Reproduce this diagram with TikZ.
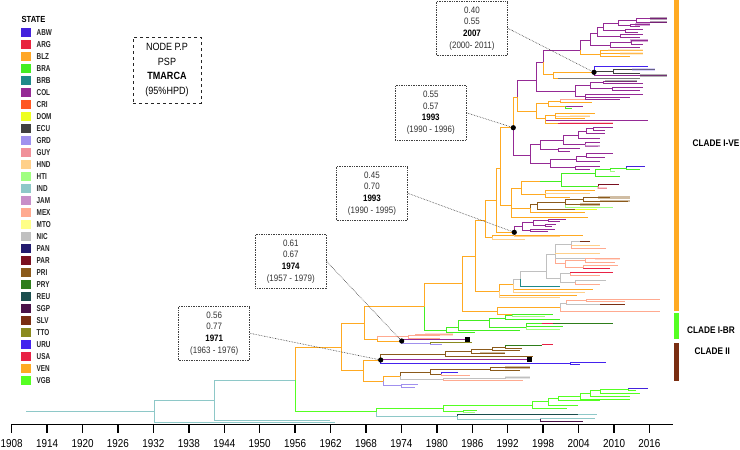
\documentclass[tikz,border=0pt]{standalone}
\usepackage{fontspec}
\setmainfont{Liberation Sans}
\newfontfamily\nrw[FakeStretch=0.86]{Liberation Sans}
\newfontfamily\xnrw[FakeStretch=0.74]{Liberation Sans}
\definecolor{cABW}{HTML}{4422DD}
\definecolor{cARG}{HTML}{E8233F}
\definecolor{cBLZ}{HTML}{FFA726}
\definecolor{cBRA}{HTML}{44EE22}
\definecolor{cBRB}{HTML}{1F8A8A}
\definecolor{cCOL}{HTML}{952A95}
\definecolor{cCRI}{HTML}{FF5722}
\definecolor{cDOM}{HTML}{EEFF22}
\definecolor{cECU}{HTML}{404040}
\definecolor{cGRD}{HTML}{A090EE}
\definecolor{cGUY}{HTML}{F0909A}
\definecolor{cHND}{HTML}{FFD08A}
\definecolor{cHTI}{HTML}{A0FF80}
\definecolor{cIND}{HTML}{8EC8C8}
\definecolor{cJAM}{HTML}{C88EC8}
\definecolor{cMEX}{HTML}{FFAA90}
\definecolor{cMTO}{HTML}{FFFF88}
\definecolor{cNIC}{HTML}{C0C0C0}
\definecolor{cPAN}{HTML}{221A6E}
\definecolor{cPAR}{HTML}{7A1020}
\definecolor{cPRI}{HTML}{8B5A1B}
\definecolor{cPRY}{HTML}{2E7D1A}
\definecolor{cREU}{HTML}{1A4D4D}
\definecolor{cSGP}{HTML}{4A1248}
\definecolor{cSLV}{HTML}{7A2E12}
\definecolor{cTTO}{HTML}{8A8A1E}
\definecolor{cURU}{HTML}{4422EE}
\definecolor{cUSA}{HTML}{E82245}
\definecolor{cVEN}{HTML}{FFAA22}
\definecolor{cVGB}{HTML}{55FF22}
\newcommand\brn[5]{\draw[tl,#1] (#2,#3) |- (#4,#5);}
\newcommand\hsg[4]{\draw[tl,#1] (#2,#3) -- (#4,#3);}
\newcommand\tbr[4]{\draw[#1,line width=2.6pt,opacity=.4] (#2,#3) -- (#4,#3);}
\begin{document}
\begin{tikzpicture}[x=1pt,y=-1pt,
  tl/.style={line width=1pt},
  lgtxt/.style={anchor=west,font=\xnrw\bfseries\fontsize{8.6}{10}\selectfont,text=black!85,inner sep=0},
  axtxt/.style={font=\nrw\fontsize{11.5}{12}\selectfont,inner sep=0},
  anbox/.style={draw=black!75,densely dotted,line width=0.7pt,inner sep=0,align=center,
    minimum width=71pt,minimum height=54.5pt,font=\nrw\fontsize{9.3}{11.7}\selectfont,text=black!80},
  leader/.style={densely dotted,line width=0.6pt,black!80},
  ndot/.style={circle,fill=black,inner sep=0,minimum size=5.2pt},
  nsq/.style={rectangle,fill=black,inner sep=0,minimum size=5.2pt},
  cltxt/.style={font=\nrw\bfseries\fontsize{9.6}{11}\selectfont,inner sep=0}]
\fill[white] (0,0) rectangle (740,450);
\useasboundingbox (0,0) rectangle (740,450);

% ---------- legend
\node[anchor=west,inner sep=0,font=\nrw\bfseries\fontsize{8.8}{10}\selectfont] (lgt) at (21.5,19) {STATE};
\foreach \n [count=\i from 0] in {ABW,ARG,BLZ,BRA,BRB,COL,CRI,DOM,ECU,GRD,GUY,HND,HTI,IND,JAM,MEX,MTO,NIC,PAN,PAR,PRI,PRY,REU,SGP,SLV,TTO,URU,USA,VEN,VGB}{
  \fill[fill=c\n] (21.3,27.8+12*\i) rectangle ++(9.7,9);
  \node[lgtxt] (lg\n) at (36.5,32.5+12*\i) {\n};
}

% ---------- NODE key box
\node[draw=black!85,dashed,line width=1pt,minimum width=68pt,minimum height=66pt,align=center,
  font=\nrw\fontsize{10.5}{14.7}\selectfont,inner sep=0] (key) at (167,70)
  {NODE P.P\\PSP\\\textbf{TMARCA}\\(95\%HPD)};

% ---------- axis
\draw[line width=1.4pt] (11,424.3) -- (672.6,424.3);
\foreach \yr [count=\i from 0] in {1908,1914,1920,1926,1932,1938,1944,1950,1956,1962,1968,1974,1980,1986,1992,1998,2004,2010,2016}{
  \draw[line width=1.4pt] (11.7+35.43*\i,424.3) -- ++(0,9);
  \node[axtxt] (ax\yr) at (11.7+35.43*\i,443.5) {\yr};
}

% ---------- backbone
\hsg{cIND}{26}{411.7}{154.3}
\brn{cIND}{154.3}{411.7}{214}{400.7}
\brn{cIND}{154.3}{411.7}{335}{422.3}
\brn{cIND}{214}{400.7}{295}{380}
\brn{cIND}{214}{400.7}{330}{420.3}
\brn{cVEN}{295}{380}{341.7}{347.7}
\brn{cVGB}{295}{380}{376.7}{411.7}
\brn{cVEN}{341.7}{347.7}{364}{323}
\brn{cVEN}{341.7}{347.7}{363.3}{370.7}
\brn{cVEN}{364}{323}{424.3}{306.7}
\brn{cVEN}{364}{323}{377}{339.3}
\brn{cVEN}{424.3}{306.7}{462.7}{283.3}
\brn{cBRA}{424.3}{306.7}{446.7}{330}
\brn{cVEN}{462.7}{283.3}{475.7}{256}
\brn{cVEN}{462.7}{283.3}{497.3}{311}
\brn{cVEN}{475.7}{256}{485}{220}
\brn{cVEN}{475.7}{256}{499}{291}
\brn{cVEN}{485}{220}{496.7}{200}
\brn{cVEN}{485}{220}{492}{237}
\brn{cVEN}{496.7}{200}{500}{168}
\brn{cVEN}{496.7}{200}{514.3}{232.3}
\brn{cVEN}{500}{168}{513.3}{127.7}
\brn{cVEN}{500}{168}{511.7}{205}
\brn{cVEN}{492}{237}{583}{235}
\brn{cHND}{492}{237}{525}{239.3}

% ---------- cluster e
\brn{cVEN}{511.7}{205}{521.7}{188.3}
\brn{cVEN}{511.7}{205}{530}{208}
\brn{cVEN}{511.7}{205}{588}{217}
\brn{cVEN}{521.7}{188.3}{540}{181}
\brn{cVEN}{521.7}{188.3}{545}{194}
\hsg{cBRA}{540}{181}{561.7}
\brn{cBRA}{561.7}{181}{595}{173}
\brn{cBRA}{561.7}{181}{598}{186}
\brn{cBRA}{595}{173}{610}{169.5}
\brn{cBRA}{595}{173}{620}{176}
\brn{cBRA}{610}{169.5}{626.7}{168.3}
\brn{cHTI}{610}{169.5}{615}{171.5}
\brn{cABW}{626.7}{168.3}{645}{166.8}
\brn{cBRA}{626.7}{168.3}{640}{169.5}
\brn{cGUY}{598}{186}{606.7}{188} \tbr{cGUY}{597}{188}{607}
\brn{cPAR}{598}{186}{619}{184}
\brn{cVEN}{545}{194}{595}{190.5}
\brn{cHND}{545}{194}{590}{193.5}
\brn{cVEN}{545}{194}{570}{197}
\brn{cPRI}{530}{208}{537.7}{204.5}
\brn{cVEN}{530}{208}{585}{212.5}
\brn{cPRI}{537.7}{204.5}{565}{202}
\brn{cPRI}{537.7}{204.5}{575}{209.5}
\hsg{cDOM}{575}{209.5}{596.7}
\brn{cHTI}{565}{202}{613}{207.3}
\brn{cPRI}{565}{202}{583}{199}
\brn{cPRI}{565}{202}{600}{204.5} \tbr{cPRI}{580}{204.5}{600}
\brn{cPRI}{583}{199}{610}{197.5} \tbr{cPRI}{598}{197.5}{630}
\brn{cPRI}{583}{199}{628}{201} \tbr{cPRI}{600}{201}{630}

% ---------- cluster f
\brn{cCOL}{514.3}{232.3}{522}{226.5}
\brn{cHND}{514.3}{232.3}{560}{236.5}
\brn{cCOL}{522}{226.5}{533}{222.5}
\brn{cCOL}{522}{226.5}{530}{230}
\brn{cCOL}{533}{222.5}{548}{220}
\brn{cCOL}{533}{222.5}{545}{225}
\brn{cCOL}{548}{220}{566}{219}
\brn{cCOL}{548}{220}{560}{221.3}
\brn{cCOL}{545}{225}{556}{224}
\brn{cCOL}{545}{225}{552}{226.5}
\brn{cCOL}{530}{230}{555}{229}
\brn{cCOL}{530}{230}{548}{231.5}

% ---------- cluster d
\brn{cCOL}{513.3}{127.7}{530}{155}
\brn{cVEN}{513.3}{127.7}{517.3}{97.3}
\brn{cCOL}{530}{155}{540}{144.3}
\brn{cCOL}{530}{155}{550}{163.3}
\brn{cCOL}{540}{144.3}{563.3}{140}
\brn{cCOL}{540}{144.3}{558}{149}
\brn{cCOL}{563.3}{140}{578.3}{135}
\brn{cCOL}{563.3}{140}{585}{144}
\brn{cCOL}{578.3}{135}{586.7}{131}
\brn{cCOL}{578.3}{135}{600}{138.5}
\brn{cCOL}{586.7}{131}{593.3}{128.5}
\brn{cCOL}{586.7}{131}{605}{133.5}
\brn{cCOL}{593.3}{128.5}{613}{127}
\brn{cCOL}{593.3}{128.5}{605}{130}
\brn{cCOL}{585}{144}{600}{142.5}
\brn{cJAM}{585}{144}{598}{146} \tbr{cCOL}{585}{146}{600}
\brn{cCOL}{558}{149}{580}{148.5}
\brn{cCOL}{558}{149}{570}{151}
\brn{cCOL}{550}{163.3}{576.7}{159}
\brn{cCOL}{550}{163.3}{575}{167.5}
\brn{cCOL}{576.7}{159}{586.7}{156}
\brn{cCOL}{576.7}{159}{600}{161.5}
\brn{cCOL}{586.7}{156}{613}{153.5}
\brn{cCOL}{586.7}{156}{605}{157.5}
\brn{cCOL}{575}{167.5}{600}{166}
\brn{cCOL}{575}{167.5}{590}{169}

% ---------- cluster c
\brn{cCOL}{517.3}{97.3}{536.7}{80.7}
\brn{cVEN}{517.3}{97.3}{536.7}{111}
\brn{cVEN}{536.7}{111}{548.3}{103}
\brn{cVEN}{536.7}{111}{545}{118}
\brn{cVEN}{548.3}{103}{560}{101}
\brn{cVEN}{548.3}{103}{565}{106}
\brn{cMEX}{560}{101}{600}{99.5}
\brn{cVEN}{560}{101}{592}{102.5}
\brn{cCOL}{565}{106}{583}{106.5}
\brn{cBRA}{565}{106}{572}{108}
\brn{cVEN}{545}{118}{555}{115.5}
\brn{cCOL}{545}{118}{648}{120.5}
\brn{cVEN}{545}{118}{558.3}{123}
\tbr{cGUY}{560}{123}{613}
\hsg{cUSA}{558.3}{123}{613.3}
\brn{cVEN}{555}{115.5}{595}{113.3}
\brn{cHND}{555}{115.5}{590}{116} \tbr{cHND}{570}{116}{590}
\brn{cVEN}{555}{115.5}{585}{118}

% ---------- cluster a/b
\brn{cCOL}{536.7}{80.7}{543.3}{62}
\brn{cCOL}{536.7}{80.7}{575}{91}
\brn{cCOL}{543.3}{62}{580}{50}
\brn{cVEN}{543.3}{62}{553.3}{74}
\brn{cCOL}{580}{50}{590}{40}
\brn{cVEN}{580}{50}{600}{54}
\brn{cCOL}{590}{40}{597}{33}
\brn{cCOL}{590}{40}{610}{45}
\brn{cCOL}{610}{45}{631.7}{42.5}
\brn{cCOL}{610}{45}{640}{47.5}
\brn{cCOL}{631.7}{42.5}{648}{40.5} \tbr{cCOL}{630}{40.5}{648}
\brn{cCOL}{631.7}{42.5}{643}{44}
\brn{cCOL}{597}{33}{603}{27}
\brn{cCOL}{597}{33}{620}{36}
\brn{cCOL}{620}{36}{643}{34.3}
\brn{cCOL}{620}{36}{640}{37.5}
\brn{cCOL}{603}{27}{618}{23}
\brn{cCOL}{603}{27}{625}{30.5}
\brn{cCOL}{625}{30.5}{643}{29.5}
\brn{cCOL}{625}{30.5}{638}{32}
\brn{cCOL}{618}{23}{636.7}{20.5}
\brn{cCOL}{618}{23}{630}{25.5}
\brn{cCOL}{636.7}{20.5}{667}{18.5} \tbr{cSGP}{650}{18.5}{667}
\brn{cCOL}{636.7}{20.5}{667}{22} \tbr{cSGP}{650}{22}{667}
\brn{cCOL}{630}{25.5}{650}{24.7} \tbr{cCOL}{635}{24.7}{650}
\brn{cCOL}{630}{25.5}{640}{26.7}
\brn{cVEN}{600}{54}{643}{50} \tbr{cHND}{608}{50}{643}
\brn{cVEN}{600}{54}{643}{53.5} \tbr{cHND}{620}{53.5}{643}
\brn{cVEN}{600}{54}{630}{56.7}
\brn{cVEN}{553.3}{74}{594}{72.3}
\brn{cVEN}{553.3}{74}{558}{78.5}
\hsg{cECU!70}{558}{78.5}{640}
\brn{cURU}{594}{72.3}{648}{66.7}
\brn{cECU}{594}{72.3}{613}{71}
\brn{cECU}{613}{71}{655}{69.5} \tbr{cGRD}{632}{69.5}{655}
\brn{cECU}{613}{71}{640}{73}
\brn{cCOL}{594}{72.3}{667}{75.2} \tbr{cECU}{640}{75.2}{667}
\brn{cCOL}{575}{91}{590}{85}
\brn{cCOL}{575}{91}{585}{96.5}
\brn{cCOL}{590}{85}{603}{82}
\brn{cCOL}{590}{85}{612}{88.5}
\brn{cCOL}{603}{82}{636.7}{81} \tbr{cECU}{605}{81}{636.7}
\brn{cCOL}{603}{82}{642.7}{83.7}
\brn{cCOL}{612}{88.5}{643}{87}
\brn{cCOL}{612}{88.5}{640}{90}
\brn{cCOL}{585}{96.5}{643}{94.5}
\brn{cCOL}{585}{96.5}{630}{97}
\brn{cCOL}{585}{96.5}{620}{99.5}

% ---------- cluster g
\brn{cVEN}{499}{291}{513.3}{284}
\brn{cVEN}{499}{291}{576.7}{295}
\brn{cHND}{499}{291}{560}{297.5}
\brn{cNIC}{513.3}{284}{520}{279.3}
\brn{cVEN}{513.3}{284}{593}{289.5}
\brn{cHND}{513.3}{284}{585}{292}
\brn{cNIC}{520}{279.3}{546.7}{271}
\brn{cBRB}{520}{279.3}{560}{286.7}
\brn{cNIC}{546.7}{271}{555}{254}
\brn{cNIC}{546.7}{271}{560}{278.5}
\brn{cNIC}{555}{254}{571}{244.5}
\brn{cMEX}{555}{254}{565}{263}
\brn{cHND}{555}{254}{600}{253.5}
\brn{cNIC}{555}{254}{607}{258.3}
\brn{cNIC}{571}{244.5}{580}{241.7} \hsg{cSLV}{580}{241.7}{590}
\brn{cHND}{571}{244.5}{600}{245.3}
\brn{cMEX}{571}{244.5}{606}{248.5}
\brn{cMEX}{565}{263}{585}{260.5}
\brn{cMEX}{565}{263}{583.3}{267.5}
\brn{cMEX}{585}{260.5}{620}{258.8} \tbr{cMEX}{595}{258.8}{620}
\brn{cMEX}{585}{260.5}{615}{262.5}
\brn{cUSA}{583.3}{267.5}{610}{268}
\brn{cMEX}{583.3}{267.5}{618}{265.3}
\brn{cNIC}{560}{278.5}{570}{273}
\brn{cNIC}{560}{278.5}{575}{282}
\brn{cUSA}{570}{273}{613.3}{272.7}
\brn{cMEX}{570}{273}{600}{275.5}
\brn{cNIC}{575}{282}{606}{280}
\brn{cMEX}{575}{282}{600}{284}

% ---------- cluster h
\brn{cVEN}{497.3}{311}{560}{307.5}
\brn{cVEN}{497.3}{311}{525}{314}
\brn{cMEX}{560}{307.5}{660}{311}
\brn{cNIC}{560}{307.5}{566}{303}
\brn{cMEX}{566}{303}{586.7}{300}
\brn{cNIC}{566}{303}{600}{304.5}
\hsg{cSLV}{600}{304.5}{625}
\brn{cMEX}{586.7}{300}{660}{299.3}
\brn{cMEX}{586.7}{300}{625}{301.8}

% ---------- clade I-BR
\brn{cBRA}{446.7}{330}{458.3}{327}
\brn{cBRA}{446.7}{330}{475}{332}
\brn{cBRA}{458.3}{327}{489.3}{320.7}
\brn{cBRA}{458.3}{327}{520}{330}
\brn{cBRA}{489.3}{320.7}{505}{318}
\brn{cBRA}{489.3}{320.7}{526.7}{327}
\brn{cBRA}{505}{318}{512}{315.3}
\brn{cBRA}{505}{318}{560}{319.7}
\brn{cBRA}{512}{315.3}{553}{314.5}
\brn{cHTI}{512}{315.3}{545}{316.5}
\brn{cBRA}{526.7}{327}{541.7}{323}
\hsg{cUSA}{541.7}{323}{553.3}
\hsg{cPRY}{553.3}{323}{613.3}
\brn{cBRA}{526.7}{327}{563}{326}
\brn{cHTI}{526.7}{327}{560}{329}

% ---------- 1974 cluster
\brn{cMEX}{377}{339.3}{408.3}{336.7}
\brn{cVEN}{377}{339.3}{401.7}{341}
\brn{cMEX}{408.3}{336.7}{415}{335}
\brn{cMEX}{408.3}{336.7}{440}{338}
\brn{cMEX}{415}{335}{453.3}{334.2} \tbr{cMEX}{425}{334.2}{453}
\brn{cMEX}{415}{335}{440}{335.8}
\brn{cCOL}{401.7}{341}{467.7}{339.5}
\brn{cGRD}{401.7}{341}{430}{343.5}
\brn{cGRD}{430}{343.5}{441.7}{344.3}
\brn{cTTO}{430}{343.5}{471.7}{342.4}

% ---------- 1971 cluster
\brn{cPRI}{380.7}{360}{445.7}{354}
\brn{cCOL}{380.7}{360}{529.3}{359.5}
\brn{cURU}{380.7}{360}{570}{363.5}
\brn{cURU}{570}{363.5}{606}{362.5}
\brn{cURU}{570}{363.5}{580}{364.7}
\brn{cPRI}{445.7}{354}{471.7}{351}
\brn{cPRI}{445.7}{354}{533.3}{356.5}
\brn{cPRI}{471.7}{351}{492.7}{349}
\brn{cPRI}{471.7}{351}{505}{353} \tbr{cPRI}{480}{353}{505}
\brn{cPRI}{492.7}{349}{505}{347}
\brn{cPRI}{492.7}{349}{520}{350.5}
\brn{cPRY}{505}{347}{541.7}{345.5}
\brn{cPRI}{505}{347}{522}{348.3}
\hsg{cUSA}{541.7}{344.6}{553.3}

% ---------- cluster l
\brn{cVEN}{363.3}{370.7}{380.7}{360}
\brn{cVEN}{363.3}{370.7}{383.3}{381}
\brn{cVEN}{383.3}{381}{400}{376}
\brn{cGRD}{383.3}{381}{401.7}{385.7}
\brn{cPRI}{400}{376}{430}{372.3}
\brn{cNIC}{400}{376}{443.3}{379.3}
\brn{cPRI}{430}{372.3}{490}{369}
\brn{cPRI}{430}{372.3}{441.7}{374}
\brn{cURU}{441.7}{374}{458.3}{372.3}
\brn{cMEX}{441.7}{374}{470}{375.5}
\brn{cPRI}{490}{369}{530}{367.3} \tbr{cPRI}{505}{367.3}{530}
\brn{cPRI}{490}{369}{520}{370}
\brn{cMEX}{443.3}{379.3}{523.3}{380.5}
\brn{cNIC}{443.3}{379.3}{505}{378}
\brn{cNIC}{505}{378}{530}{377.5} \tbr{cNIC}{505}{377.7}{530}
\brn{cGRD}{401.7}{385.7}{418.3}{384.5}
\brn{cGRD}{401.7}{385.7}{415}{387}

% ---------- bottom green / teal
\brn{cVGB}{376.7}{411.7}{443.3}{408.3}
\brn{cIND}{376.7}{411.7}{457.7}{416}
\brn{cVGB}{443.3}{408.3}{532.3}{405}
\brn{cVGB}{443.3}{408.3}{463.3}{411.7}
\brn{cVGB}{463.3}{411.7}{476.7}{410.5}
\brn{cHTI}{463.3}{411.7}{475}{412.7}
\brn{cVGB}{532.3}{405}{548.3}{401.7}
\brn{cVGB}{532.3}{405}{566.7}{408.3}
\brn{cVGB}{548.3}{401.7}{558.3}{398.3}
\brn{cVGB}{548.3}{401.7}{578.3}{405}
\brn{cVGB}{558.3}{398.3}{580}{396.7}
\brn{cVGB}{558.3}{398.3}{600}{400}
\brn{cVGB}{580}{396.7}{590}{393.3}
\brn{cVGB}{580}{396.7}{630}{399}
\brn{cVGB}{590}{393.3}{600}{390.7}
\brn{cVGB}{590}{393.3}{630}{396}
\brn{cVGB}{600}{390.7}{628.3}{389.3}
\brn{cVGB}{600}{390.7}{640}{393}
\brn{cABW}{628.3}{389.3}{648}{388}
\brn{cVGB}{628.3}{389.3}{636}{390.5}
\brn{cREU}{457.7}{416}{577.7}{414.3}
\hsg{cIND}{577.7}{414.3}{597}
\brn{cIND}{457.7}{416}{540}{419.3}
\brn{cIND}{540}{419.3}{595}{418.3}
\brn{cSGP}{540}{419.3}{583.3}{421.5}

% ---------- clade bars
\fill[cVEN] (674,0) rectangle (678.7,311);
\fill[cVGB] (674,313.3) rectangle (678.7,339.3);
\fill[cSLV] (674,343.3) rectangle (678.7,380.7);
\node[cltxt] (clve) at (716,143.3) {CLADE I-VE};
\node[cltxt] (clbr) at (711,330) {CLADE I-BR};
\node[cltxt] (clii) at (712.3,351) {CLADE II};

% ---------- annotation boxes
\node[anbox] (b1) at (472,28.3) {0.40\\0.55\\\textbf{\color{black}2007}\\(2000- 2011)};
\node[anbox] (b2) at (430.8,112.8) {0.55\\0.57\\\textbf{\color{black}1993}\\(1990 - 1996)};
\node[anbox] (b3) at (372,193.3) {0.45\\0.70\\\textbf{\color{black}1993}\\(1990 - 1995)};
\node[anbox] (b4) at (290.8,261.5) {0.61\\0.67\\\textbf{\color{black}1974}\\(1957 - 1979)};
\node[anbox] (b5) at (214.2,333.3) {0.56\\0.77\\\textbf{\color{black}1971}\\(1963 - 1976)};

\coordinate (p1) at (594,72.3);
\coordinate (p2) at (513.3,127.7);
\coordinate (p3) at (514.3,232.3);
\coordinate (p4) at (401.7,341);
\coordinate (p5) at (380.7,360);
\draw[leader] (b1.east) -- (p1);
\draw[leader] (b2.east) -- (p2);
\draw[leader] (b3.east) -- (p3);
\draw[leader] (b4.east) -- (p4);
\draw[leader] (b5.east) -- (p5);
\node[ndot] (d1) at (p1) {};
\node[ndot] (d2) at (p2) {};
\node[ndot] (d3) at (p3) {};
\node[ndot] (d4) at (p4) {};
\node[ndot] (d5) at (p5) {};
\node[nsq] (s1) at (467.7,339.3) {};
\node[nsq] (s2) at (529.3,359.3) {};
\end{tikzpicture}
\end{document}
